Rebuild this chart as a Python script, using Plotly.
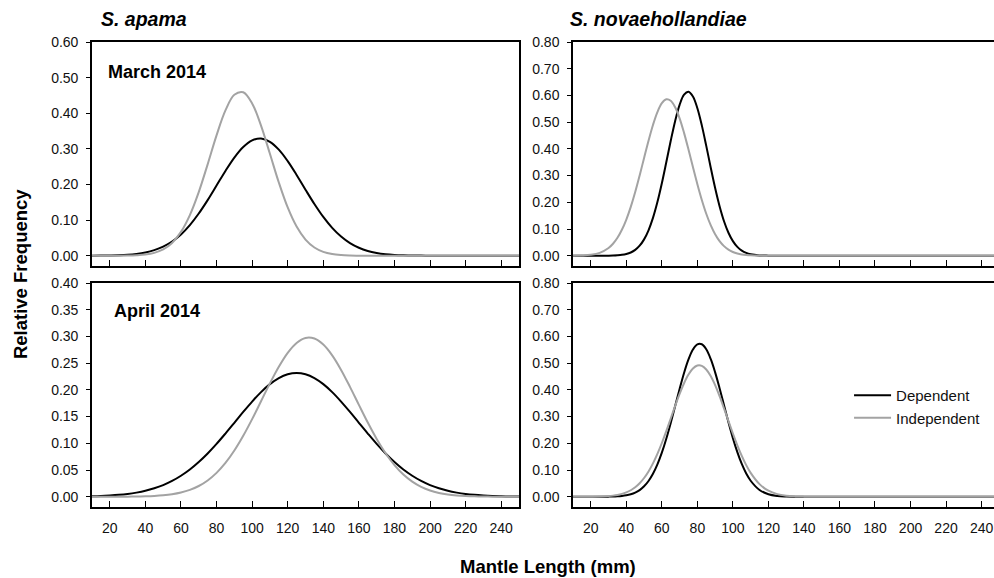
import plotly.graph_objects as go
from plotly.subplots import make_subplots

# mantle length (mm) for S. apama, sampled every 5 mm
apama_mm = [10, 15, 20, 25, 30, 35, 40, 45, 50, 55, 60, 65, 70, 75, 80, 85, 90, 95, 100,
            105, 110, 115, 120, 125, 130, 135, 140, 145, 150, 155, 160, 165, 170, 175,
            180, 185, 190, 195, 200, 205, 210, 215, 220, 225, 230, 235, 240, 245, 250]

# mantle length (mm) for S. novaehollandiae, finer around the narrow peaks
novae_mm = [10, 15, 20, 25, 30, 32.5, 35, 37.5, 40, 42.5, 45, 47.5, 50, 52.5, 55, 57.5,
            60, 62.5, 65, 67.5, 70, 72.5, 75, 77.5, 80, 82.5, 85, 87.5, 90, 92.5, 95, 97.5,
            100, 102.5, 105, 107.5, 110, 115, 120, 125, 130, 135, 140, 145, 150, 155, 160,
            165, 170, 175, 180, 185, 190, 195, 200, 205, 210, 215, 220, 225, 230, 235, 240,
            245, 250]

# S. apama, March 2014
apama_mar_dep = [0.0001, 0.0003, 0.0007, 0.0014, 0.0027, 0.0051, 0.0091, 0.0156, 0.0255, 0.0399,
                 0.0599, 0.0861, 0.1185, 0.1561, 0.1970, 0.2381, 0.2755, 0.3052, 0.3237, 0.3290,
                 0.3199, 0.2979, 0.2656, 0.2268, 0.1854, 0.1452, 0.1088, 0.0781, 0.0537, 0.0353,
                 0.0223, 0.0134, 0.0078, 0.0043, 0.0023, 0.0012, 0.0006, 0.0003, 0.0001, 0.0,
                 0.0, 0.0, 0.0, 0.0, 0.0, 0.0, 0.0, 0.0, 0.0]
apama_mar_ind = [0.0, 0.0, 0.0, 0.0001, 0.0004, 0.0013, 0.0033, 0.0080, 0.0177, 0.0360,
                 0.0669, 0.1142, 0.1787, 0.2566, 0.3379, 0.4080, 0.4519, 0.4590, 0.4275, 0.3653,
                 0.2862, 0.2057, 0.1355, 0.0819, 0.0454, 0.0231, 0.0108, 0.0046, 0.0018, 0.0006,
                 0.0002, 0.0, 0.0, 0.0, 0.0, 0.0, 0.0, 0.0, 0.0, 0.0,
                 0.0, 0.0, 0.0, 0.0, 0.0, 0.0, 0.0, 0.0, 0.0]

# S. apama, April 2014
apama_apr_dep = [0.0009, 0.0014, 0.0023, 0.0035, 0.0052, 0.0077, 0.0111, 0.0158, 0.0218, 0.0296,
                 0.0393, 0.0510, 0.0650, 0.0810, 0.0989, 0.1183, 0.1384, 0.1587, 0.1781, 0.1958,
                 0.2107, 0.2221, 0.2292, 0.2316, 0.2292, 0.2221, 0.2107, 0.1958, 0.1781, 0.1587,
                 0.1384, 0.1183, 0.0989, 0.0810, 0.0650, 0.0510, 0.0393, 0.0296, 0.0218, 0.0158,
                 0.0111, 0.0077, 0.0052, 0.0035, 0.0023, 0.0014, 0.0009, 0.0005, 0.0003]
apama_apr_ind = [0.0, 0.0, 0.0, 0.0001, 0.0002, 0.0004, 0.0008, 0.0015, 0.0027, 0.0047,
                 0.0079, 0.0128, 0.0201, 0.0305, 0.0447, 0.0633, 0.0865, 0.1141, 0.1453, 0.1787,
                 0.2122, 0.2433, 0.2694, 0.2879, 0.2972, 0.2961, 0.2849, 0.2647, 0.2374, 0.2056,
                 0.1719, 0.1388, 0.1082, 0.0815, 0.0592, 0.0415, 0.0282, 0.0184, 0.0116, 0.0071,
                 0.0042, 0.0024, 0.0013, 0.0007, 0.0004, 0.0002, 0.0001, 0.0, 0.0]

# S. novaehollandiae, March 2014
novae_mar_dep = [0.0, 0.0, 0.0, 0.0001, 0.0003, 0.0007, 0.0016, 0.0033, 0.0065, 0.0122,
                 0.0219, 0.0375, 0.0612, 0.0953, 0.1416, 0.2007, 0.2713, 0.3498, 0.4302, 0.5047,
                 0.5648, 0.6029, 0.6139, 0.5961, 0.5521, 0.4879, 0.4111, 0.3305, 0.2534, 0.1854,
                 0.1292, 0.0860, 0.0546, 0.0330, 0.0191, 0.0105, 0.0055, 0.0013, 0.0003,
                 0.0, 0.0, 0.0, 0.0, 0.0, 0.0, 0.0, 0.0, 0.0, 0.0, 0.0, 0.0, 0.0, 0.0,
                 0.0, 0.0, 0.0, 0.0, 0.0, 0.0, 0.0, 0.0, 0.0, 0.0, 0.0, 0.0]
novae_mar_ind = [0.0003, 0.0010, 0.0036, 0.0109, 0.0290, 0.0449, 0.0672, 0.0971, 0.1355, 0.1830,
                 0.2386, 0.3006, 0.3660, 0.4305, 0.4895, 0.5377, 0.5708, 0.5854, 0.5802, 0.5557,
                 0.5143, 0.4599, 0.3974, 0.3317, 0.2677, 0.2087, 0.1572, 0.1145, 0.0805, 0.0547,
                 0.0359, 0.0228, 0.0140, 0.0083, 0.0047, 0.0026, 0.0014, 0.0004, 0.0001,
                 0.0, 0.0, 0.0, 0.0, 0.0, 0.0, 0.0, 0.0, 0.0, 0.0, 0.0, 0.0, 0.0, 0.0,
                 0.0, 0.0, 0.0, 0.0, 0.0, 0.0, 0.0, 0.0, 0.0, 0.0, 0.0, 0.0]

# S. novaehollandiae, April 2014
novae_apr_dep = [0.0, 0.0, 0.0, 0.0001, 0.0004, 0.0008, 0.0016, 0.0030, 0.0053, 0.0092,
                 0.0154, 0.0249, 0.0390, 0.0589, 0.0859, 0.1211, 0.1650, 0.2173, 0.2764, 0.3398,
                 0.4037, 0.4633, 0.5139, 0.5508, 0.5704, 0.5707, 0.5519, 0.5156, 0.4655, 0.4062,
                 0.3424, 0.2789, 0.2195, 0.1670, 0.1227, 0.0872, 0.0598, 0.0254, 0.0094,
                 0.0030, 0.0009, 0.0002, 0.0, 0.0, 0.0, 0.0, 0.0, 0.0, 0.0, 0.0, 0.0, 0.0, 0.0,
                 0.0, 0.0, 0.0, 0.0, 0.0, 0.0, 0.0, 0.0, 0.0, 0.0, 0.0, 0.0]
novae_apr_ind = [0.0, 0.0, 0.0003, 0.0009, 0.0025, 0.0042, 0.0067, 0.0106, 0.0163, 0.0243,
                 0.0355, 0.0505, 0.0701, 0.0947, 0.1249, 0.1605, 0.2011, 0.2457, 0.2927, 0.3400,
                 0.3849, 0.4249, 0.4574, 0.4799, 0.4910, 0.4898, 0.4763, 0.4516, 0.4175, 0.3762,
                 0.3306, 0.2833, 0.2366, 0.1927, 0.1530, 0.1184, 0.0893, 0.0472, 0.0225,
                 0.0097, 0.0038, 0.0013, 0.0004, 0.0001, 0.0, 0.0, 0.0, 0.0, 0.0, 0.0, 0.0, 0.0, 0.0,
                 0.0, 0.0, 0.0, 0.0, 0.0, 0.0, 0.0, 0.0, 0.0, 0.0, 0.0, 0.0]

x_ticks = [20, 40, 60, 80, 100, 120, 140, 160, 180, 200, 220, 240]

DEP_COLOR = "#000000"
IND_COLOR = "#a3a3a3"
FONT = "Arial, Liberation Sans, sans-serif"

panels = [
    (1, 1, apama_mm, apama_mar_dep, apama_mar_ind, 0.60, 0.10),
    (1, 2, novae_mm, novae_mar_dep, novae_mar_ind, 0.80, 0.10),
    (2, 1, apama_mm, apama_apr_dep, apama_apr_ind, 0.40, 0.05),
    (2, 2, novae_mm, novae_apr_dep, novae_apr_ind, 0.80, 0.10),
]

fig = make_subplots(rows=2, cols=2)

for row, col, xs, dep, ind, ytop, dy in panels:
    legend_on = (row == 2 and col == 2)
    fig.add_trace(go.Scatter(x=xs, y=dep, name="Dependent", mode="lines",
                             line=dict(color=DEP_COLOR, width=2, shape="spline", smoothing=1.0),
                             showlegend=legend_on),
                  row=row, col=col)
    fig.add_trace(go.Scatter(x=xs, y=ind, name="Independent", mode="lines",
                             line=dict(color=IND_COLOR, width=2, shape="spline", smoothing=1.0),
                             showlegend=legend_on),
                  row=row, col=col)

    fig.update_yaxes(range=[-0.048 * ytop, ytop], dtick=dy, tick0=0, tickformat=".2f",
                     ticks="outside", ticklen=4, tickwidth=1, tickcolor="black",
                     ticklabelstandoff=5,
                     showline=True, linecolor="black", linewidth=1.6,
                     mirror=(col == 1), showgrid=False, zeroline=False,
                     tickfont=dict(family=FONT, size=14, color="#111"),
                     row=row, col=col)

    # right-hand panels run off the right edge of the picture
    fig.update_xaxes(range=[10, 250] if col == 1 else [10, 247], tickvals=x_ticks,
                     ticks="inside", ticklen=6, tickwidth=1, tickcolor="black",
                     showline=True, linecolor="black", linewidth=1.6, mirror=True,
                     showgrid=False, zeroline=False, showticklabels=(row == 2),
                     ticklabelstandoff=7, ticklabeloverflow="allow",
                     tickfont=dict(family=FONT, size=14, color="#111"),
                     row=row, col=col)

# panel placement (plot area 902 x 465 px)
fig.update_layout(
    xaxis=dict(domain=[0, 0.4734]), xaxis3=dict(domain=[0, 0.4734]),
    xaxis2=dict(domain=[0.5333, 1]), xaxis4=dict(domain=[0.5333, 1]),
    yaxis=dict(domain=[0.5183, 1]), yaxis2=dict(domain=[0.5183, 1]),
    yaxis3=dict(domain=[0, 0.4817]), yaxis4=dict(domain=[0, 0.4817]),
)

notes = [
    dict(text="<b><i>S. apama</i></b>", x=0.0078, y=1.049, size=19.5),
    dict(text="<b><i>S. novaehollandiae</i></b>", x=0.5277, y=1.049, size=19.5),
    dict(text="<b>March 2014</b>", x=0.0155, y=0.9355, size=18),
    dict(text="<b>April 2014</b>", x=0.0222, y=0.4215, size=18),
]
for n in notes:
    fig.add_annotation(text=n["text"], x=n["x"], y=n["y"], xref="paper", yref="paper",
                       xanchor="left", yanchor="middle", showarrow=False,
                       font=dict(family=FONT, size=n["size"], color="black"))

fig.add_annotation(text="<b>Relative Frequency</b>", x=-0.0798, y=0.501, xref="paper", yref="paper",
                   textangle=-90, showarrow=False, xanchor="center", yanchor="middle",
                   font=dict(family=FONT, size=18.5, color="black"))
fig.add_annotation(text="<b>Mantle Length (mm)</b>", x=0.5055, y=-0.1269, xref="paper", yref="paper",
                   showarrow=False, xanchor="center", yanchor="middle",
                   font=dict(family=FONT, size=18.5, color="black"))

fig.update_layout(
    width=994, height=578,
    margin=dict(l=92, r=0, t=42, b=71, pad=0),
    paper_bgcolor="white", plot_bgcolor="white",
    legend=dict(x=0.8393, y=0.2753, xanchor="left", yanchor="top",
                font=dict(family=FONT, size=15, color="#111"),
                itemwidth=37,
                bgcolor="rgba(0,0,0,0)", tracegroupgap=0),
)

# drop the default page margin so the figure sits at the window corner
fig.write_html("out.html", config={"displayModeBar": False},
               post_script="document.body.style.margin='0';document.body.style.overflow='hidden';")
